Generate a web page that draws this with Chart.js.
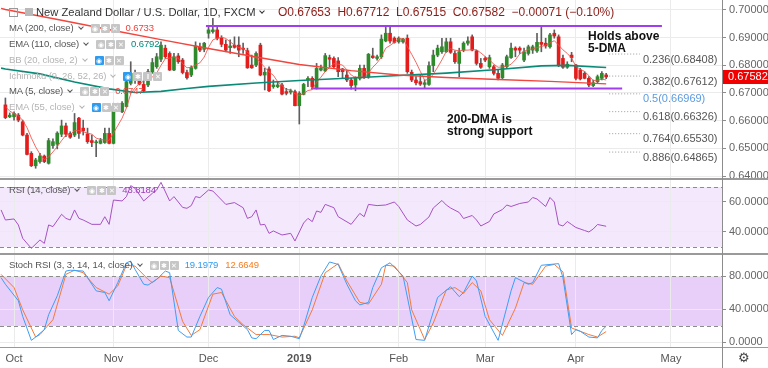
<!DOCTYPE html>
<html>
<head>
<meta charset="utf-8">
<script src="https://cdn.jsdelivr.net/npm/chart.js@4.4.1/dist/chart.umd.min.js"></script>
<style>
  body { margin: 0; background: #fff; font-family: "Liberation Sans", Arial, sans-serif; }
  #wrap { position: relative; width: 768px; height: 368px; overflow: hidden; }
  .pane { position: absolute; left: 0; width: 768px; }
  .sep { position: absolute; left: 0; width: 768px; background: #9a9a9a; }
  .vline { position: absolute; left: 722px; top: 0; width: 1px; height: 368px; background: #8c8c8c; }
  .leg { position: absolute; left: 9px; height: 14px; line-height: 14px; font-size: 9.5px; color: #555;
         display: flex; align-items: center; white-space: nowrap; letter-spacing: -0.1px; }
  .leg.dim { color: #b4b4b4; }
  .chev { display: inline-block; width: 3px; height: 3px; border-right: 1.3px solid currentColor;
          border-bottom: 1.3px solid currentColor; transform: rotate(45deg); margin: -3px 0 0 5px; }
  .icons { display: inline-flex; margin-left: 8px; }
  .i { display: inline-block; width: 9px; height: 9px; background: #c6c6c6; margin-right: 1px;
       color: #fff; font-size: 7px; line-height: 9px; text-align: center; border-radius: 1px; letter-spacing: 0; }
  .i.b { background: #2d9bf0; }
  .val { margin-left: 5px; }
  .gear { position: absolute; left: 738px; top: 350px; font-size: 13px; color: #444; }
</style>
</head>
<body>
<div id="wrap">
  <div class="pane" style="top:0;height:179px"><canvas id="mainChart"></canvas></div>
  <div class="pane" style="top:179px;height:75px"><canvas id="rsiChart"></canvas></div>
  <div class="pane" style="top:254px;height:114px"><canvas id="stochChart"></canvas></div>

  <div class="sep" style="top:178px;height:2px"></div>
  <div class="sep" style="top:253px;height:2px"></div>
  <div class="sep" style="top:347px;height:1px"></div>
  <div class="vline"></div>

  <!-- legend, main pane -->
  <div class="leg" style="top:5px;left:9px;font-size:11.2px;color:#333;letter-spacing:0">
    <span style="display:inline-block;width:7px;height:7px;border:1px solid #999;margin-right:7px"></span>
    <span style="display:inline-block;width:8px;height:8px;background:#b9b9b9;margin-right:3px"></span>
    <span>New Zealand Dollar / U.S. Dollar, 1D, FXCM</span><span class="chev"></span>
  </div>
  <div class="leg" style="top:5px;left:278px;font-size:12px;color:#8a1c16;letter-spacing:0">
    O0.67653&nbsp;&nbsp;H0.67712&nbsp;&nbsp;L0.67515&nbsp;&nbsp;C0.67582&nbsp;&nbsp;−0.00071 (−0.10%)
  </div>
  <div class="leg" style="top:21px"><span>MA (200, close)</span><span class="chev"></span>
    <span class="icons"><span class="i">◉</span><span class="i">✱</span><span class="i">✕</span></span>
    <span class="val" style="color:#f0403a">0.6733</span></div>
  <div class="leg" style="top:37px"><span>EMA (110, close)</span><span class="chev"></span>
    <span class="icons"><span class="i">◉</span><span class="i">✱</span><span class="i">✕</span></span>
    <span class="val" style="color:#00897b">0.6792</span></div>
  <div class="leg dim" style="top:53px"><span>BB (20, close, 2)</span><span class="chev"></span>
    <span class="icons"><span class="i b">◉</span><span class="i">✱</span><span class="i">✕</span></span></div>
  <div class="leg dim" style="top:69px"><span>Ichimoku (9, 26, 52, 26)</span><span class="chev"></span>
    <span class="icons"><span class="i b">◉</span><span class="i">✱</span><span class="i">‖</span><span class="i">✕</span></span></div>
  <div class="leg" style="top:84px"><span>MA (5, close)</span><span class="chev"></span>
    <span class="icons"><span class="i">◉</span><span class="i">✱</span><span class="i">✕</span></span>
    <span class="val" style="color:#f0403a">0.6747</span></div>
  <div class="leg dim" style="top:100px"><span>EMA (55, close)</span><span class="chev"></span>
    <span class="icons"><span class="i b">◉</span><span class="i">✱</span><span class="i">✕</span></span></div>

  <!-- legend, indicator panes -->
  <div class="leg" style="top:183px"><span>RSI (14, close)</span><span class="chev"></span>
    <span class="icons"><span class="i">◉</span><span class="i">✱</span><span class="i">✕</span></span>
    <span class="val" style="color:#9c3fb8">43.8184</span></div>
  <div class="leg" style="top:258px"><span>Stoch RSI (3, 3, 14, 14, close)</span><span class="chev"></span>
    <span class="icons"><span class="i">◉</span><span class="i">✱</span><span class="i">✕</span></span>
    <span class="val" style="color:#2d9bf0">19.1979</span>
    <span class="val" style="color:#f57c1f;margin-left:7px">12.6649</span></div>

  <div class="gear">⚙</div>
</div>

<script>
// ---- data: daily NZD/USD bars, index 0 = 27 Sep 2018, 139 = 11 Apr 2019 ----
const candleOpen = [
  .6657,.6614,.6614,.6620,.6596,.6548,.6482,.6437,.6452,.6472,
  .6446,.6510,.6515,.6551,.6581,.6554,.6548,.6609,.6573,.6552,
  .6528,.6520,.6518,.6521,.6554,.6518,.6641,.6632,.6651,.6735,
  .6747,.6749,.6731,.6729,.6774,.6795,.6822,.6862,.6843,.6783,
  .6834,.6819,.6774,.6765,.6789,.6867,.6858,.6916,.6922,.6928,
  .6898,.6876,.6864,.6873,.6873,.6862,.6853,.6801,.6801,.6873,
  .6765,.6787,.6723,.6723,.6729,.6705,.6703,.6705,.6654,.6695,
  .6747,.6753,.6719,.6783,.6780,.6828,.6825,.6816,.6787,.6765,
  .6747,.6729,.6753,.6789,.6759,.6834,.6825,.6831,.6888,.6916,
  .6898,.6885,.6885,.6898,.6775,.6747,.6741,.6731,.6731,.6799,
  .6837,.6849,.6849,.6885,.6843,.6807,.6855,.6880,.6903,.6852,
  .6807,.6825,.6795,.6795,.6771,.6755,.6795,.6828,.6862,.6862,
  .6819,.6843,.6855,.6852,.6883,.6880,.6867,.6916,.6903,.6825,
  .6793,.6837,.6801,.6783,.6771,.6753,.6727,.6741,.6753,.67653
];
const candleHigh = [
  .6682,.6628,.6632,.6626,.6602,.6554,.6488,.6464,.6482,.6476,
  .6536,.6534,.6560,.6602,.6591,.6560,.6626,.6612,.6602,.6573,
  .6548,.6530,.6536,.6573,.6573,.6663,.6663,.6669,.6774,.6813,
  .6783,.6759,.6747,.6786,.6825,.6843,.6885,.6873,.6849,.6843,
  .6843,.6825,.6783,.6798,.6885,.6880,.6883,.6940,.6970,.6940,
  .6907,.6892,.6892,.6903,.6903,.6880,.6862,.6837,.6849,.6880,
  .6789,.6795,.6747,.6741,.6735,.6717,.6714,.6711,.6705,.6735,
  .6759,.6759,.6807,.6801,.6843,.6837,.6831,.6828,.6789,.6780,
  .6753,.6759,.6801,.6801,.6843,.6862,.6837,.6910,.6940,.6940,
  .6903,.6903,.6898,.6910,.6783,.6759,.6765,.6747,.6813,.6855,
  .6873,.6898,.6898,.6898,.6852,.6862,.6885,.6903,.6910,.6855,
  .6825,.6831,.6837,.6801,.6783,.6807,.6837,.6880,.6867,.6867,
  .6862,.6873,.6873,.6916,.6940,.6898,.6916,.6928,.6910,.6837,
  .6813,.6847,.6804,.6789,.6777,.6759,.6747,.6765,.6777,.67712
];
const candleLow = [
  .6607,.6611,.6602,.6596,.6545,.6476,.6434,.6428,.6446,.6448,
  .6443,.6500,.6498,.6542,.6542,.6536,.6542,.6536,.6548,.6518,
  .6506,.6470,.6516,.6518,.6516,.6516,.6636,.6629,.6649,.6729,
  .6735,.6729,.6705,.6723,.6771,.6789,.6813,.6825,.6781,.6781,
  .6807,.6769,.6750,.6759,.6786,.6849,.6849,.6898,.6916,.6892,
  .6867,.6849,.6843,.6862,.6831,.6843,.6789,.6789,.6795,.6762,
  .6711,.6705,.6717,.6719,.6693,.6693,.6696,.6653,.6588,.6693,
  .6723,.6717,.6714,.6780,.6777,.6795,.6792,.6759,.6755,.6741,
  .6714,.6708,.6747,.6753,.6753,.6825,.6819,.6825,.6885,.6880,
  .6880,.6880,.6880,.6771,.6741,.6729,.6727,.6719,.6727,.6777,
  .6831,.6843,.6847,.6843,.6807,.6759,.6849,.6873,.6852,.6801,
  .6789,.6813,.6789,.6765,.6747,.6751,.6789,.6825,.6831,.6843,
  .6813,.6837,.6843,.6847,.6849,.6862,.6862,.6898,.6795,.6789,
  .6789,.6813,.6747,.6747,.6751,.6723,.6723,.6735,.6747,.67515
];
const candleClose = [
  .6611,.6620,.6626,.6602,.6548,.6478,.6437,.6458,.6472,.6452,
  .6528,.6524,.6555,.6581,.6551,.6540,.6593,.6554,.6564,.6524,
  .6521,.6522,.6528,.6554,.6518,.6653,.6657,.6663,.6741,.6771,
  .6765,.6732,.6708,.6777,.6810,.6831,.6873,.6831,.6783,.6831,
  .6813,.6774,.6755,.6792,.6870,.6855,.6880,.6928,.6928,.6898,
  .6876,.6855,.6870,.6865,.6855,.6858,.6791,.6791,.6843,.6765,
  .6775,.6708,.6729,.6729,.6696,.6699,.6708,.6654,.6699,.6731,
  .6753,.6723,.6789,.6789,.6835,.6822,.6795,.6777,.6777,.6747,
  .6727,.6753,.6789,.6755,.6840,.6828,.6831,.6895,.6916,.6888,
  .6883,.6898,.6895,.6777,.6747,.6737,.6732,.6737,.6799,.6837,
  .6862,.6867,.6885,.6847,.6813,.6849,.6880,.6888,.6855,.6807,
  .6793,.6819,.6828,.6771,.6753,.6801,.6831,.6862,.6855,.6855,
  .6849,.6867,.6867,.6883,.6876,.6870,.6910,.6906,.6801,.6793,
  .6804,.6828,.6753,.6751,.6753,.6729,.6737,.6759,.6771,.67582
];
const ma5 = [
  .6650,.6635,.6625,.6618,.6601,.6575,.6538,.6505,.6479,.6459,
  .6469,.6487,.6506,.6528,.6548,.6550,.6564,.6564,.6560,.6555,
  .6551,.6537,.6532,.6530,.6529,.6555,.6582,.6609,.6646,.6697,
  .6719,.6734,.6743,.6751,.6758,.6772,.6800,.6824,.6826,.6830,
  .6826,.6806,.6791,.6793,.6801,.6809,.6830,.6865,.6892,.6898,
  .6902,.6897,.6885,.6873,.6864,.6861,.6848,.6832,.6828,.6810,
  .6793,.6776,.6764,.6741,.6727,.6712,.6712,.6697,.6691,.6698,
  .6709,.6712,.6739,.6757,.6778,.6792,.6806,.6804,.6801,.6784,
  .6765,.6756,.6759,.6754,.6773,.6793,.6809,.6830,.6862,.6872,
  .6883,.6896,.6896,.6868,.6840,.6811,.6778,.6746,.6750,.6768,
  .6793,.6820,.6850,.6860,.6855,.6852,.6855,.6855,.6857,.6856,
  .6845,.6832,.6820,.6804,.6793,.6794,.6797,.6804,.6820,.6841,
  .6850,.6858,.6859,.6864,.6868,.6873,.6881,.6889,.6873,.6856,
  .6843,.6826,.6796,.6786,.6778,.6763,.6745,.6746,.6750,.6747
];
// smooth averages read at a few bars
const ma200X = [-1, 0, 13, 25, 36, 47, 58, 68, 80, 91, 102, 114, 126, 139];
const ma200 = [.7006, .7002, .6963, .6926, .6893, .6861, .6830, .6803, .6781, .6765, .6756, .6749, .6742, .6733];
const ema110X = [-1, 0, 8, 16, 24, 30, 36, 42, 47, 58, 68, 80, 91, 102, 114, 124, 130, 139];
const ema110 = [.6790, .6787, .6769, .6740, .6715, .6702, .6706, .6716, .6724, .6736, .6745, .6754, .6763, .6772, .6785, .6798, .6800, .6792];

const rsiX = [-1,0,2,3,4,6,8,9,10,11,13,14,15,16,17,18,20,22,23,24,25,27,28,29,30,32,34,35,36,38,
  39,41,42,43,44,45,47,48,51,53,55,56,57,58,59,60,61,62,64,66,67,68,69,70,71,72,73,74,76,77,
  80,82,83,84,86,88,90,91,93,94,95,96,98,99,101,102,103,105,106,108,109,110,112,113,115,116,117,119,121,122,
  123,125,126,127,128,129,130,131,132,134,135,136,137,139];
const rsi = [54.7,48,48.7,44.7,35.8,29.1,34.7,32.4,44.7,43.6,51.8,49.1,48,54.7,49.1,48,45.1,45.1,50.2,45.1,
  61.3,60.7,63.6,70.9,69.1,60.7,65.8,68,73.1,60.7,63.6,56.4,55.8,57.6,63.6,62.9,68,67.3,58.4,59.6,
  56.2,49.1,50.2,54.7,44.7,45.1,39.1,40.7,38,39.1,34,40,46,49.1,46.9,54,53.1,58.4,56.2,50.2,
  45.1,52.4,50.2,58.4,57.6,58,60,57,48,46,44,45,50,56,61,58,56,53,49,51,
  48,44,47,52,55,58,57,59,60,63,62,57,63,60,45,44,47,45,43,41,40,42,45,43.8184];

const stochKX = [-1,0,3,4,6,7,9,10,12,14,15,18,19,21,23,24,26,28,29,30,32,33,35,37,38,40,42,43,45,47,
  49,50,52,54,56,57,58,60,61,62,64,66,68,69,71,73,75,77,79,81,82,84,85,87,89,92,95,97,100,103,
  105,106,108,109,111,114,117,118,121,122,124,128,129,131,132,133,135,137,138,139];
const stochK = [78,70,50,31,2,6,15,33,56,86,87,86,78,62,60,50,72,96,98,88,70,69,76,86,84,14,6,6,31,54,
  66,64,33,24,15,5,4,14,14,3,8,7,4,19,54,80,97,94,70,50,45,48,66,90,96,80,3,2,54,67,
  55,60,80,74,31,2,62,78,70,72,93,95,78,9,15,13,6,5,14,19.1979];
const stochDX = [-1,2,4,7,8,11,14,16,18,21,24,26,28,30,33,34,36,38,41,43,45,48,50,53,55,58,61,64,67,68,
  71,74,77,79,82,84,87,88,90,93,94,97,99,102,104,106,108,110,112,115,118,120,122,125,127,129,131,133,135,137,139];
const stochD = [82,66,39,6,9,27,82,87,84,66,58,68,93,92,76,72,80,78,25,8,15,58,60,31,21,9,9,6,7,5,
  39,84,95,74,48,46,70,93,92,72,39,3,23,63,66,59,72,62,27,8,41,72,70,92,94,85,17,13,9,6,12.6649];

// axis labels
const monthTicks = [2, 25, 47, 68, 91, 111, 132, 154];
const monthLabels = ['Oct', 'Nov', 'Dec', '2019', 'Feb', 'Mar', 'Apr', 'May'];
const priceTicks = [0.64, 0.65, 0.66, 0.67, 0.68, 0.69, 0.70];
const rsiTicks = [40, 60];
const stochTicks = [0, 40, 80];
const rsiBand = [30, 70];
const stochBand = [20, 80];

// drawn objects on the price pane
const channelTop = { from: 46.4, to: 151.9, price: 0.6942 };
const channelBottom = { from: 70.7, to: 142.7, price: 0.6716 };
const fibRatios = [0.236, 0.382, 0.5, 0.618, 0.764, 0.886];
const fibPrices = [0.68408, 0.67612, 0.66969, 0.66326, 0.65530, 0.64865];
const lastPrice = 0.67582;

Chart.defaults.font.family = '"Liberation Sans", Arial, sans-serif';
Chart.defaults.animation = false;

const xMin = -1.25, xMax = 165.8;
const up = '#2f8a2c', down = '#e51c1c';

function xAxis(showLabels) {
  return {
    type: 'linear', min: xMin, max: xMax, offset: false,
    afterBuildTicks: s => { s.ticks = monthTicks.map(v => ({ value: v })); },
    afterFit: s => { s.paddingLeft = 0; s.paddingRight = 0; s.height = showLabels ? 21 : 0; },
    grid: { color: '#ebebeb', drawTicks: false, offset: false },
    border: { display: false },
    ticks: {
      display: showLabels, autoSkip: false, maxRotation: 0, padding: 5, color: '#555',
      font: c => ({ size: 11, weight: c.tick && c.tick.value === 68 ? 'bold' : 'normal' }),
      callback: (v, i) => monthLabels[i]
    }
  };
}

function yAxis(min, max, ticks, digits) {
  return {
    position: 'right', min: min, max: max,
    afterBuildTicks: s => { s.ticks = ticks.map(v => ({ value: v })); },
    afterFit: s => { s.width = 46; s.paddingTop = 0; s.paddingBottom = 0; },
    grid: { color: '#ebebeb', tickLength: 4, tickColor: '#8c8c8c' },
    border: { display: false },
    ticks: { padding: 3, color: '#666', font: { size: 11 }, callback: v => v.toFixed(digits) }
  };
}

function line(xs, ys, color, width, extra) {
  return Object.assign({
    type: 'line', data: xs.map((x, i) => ({ x: x, y: ys[i] })),
    borderColor: color, borderWidth: width, pointRadius: 0, tension: 0, order: 1
  }, extra || {});
}

function bandPlugin(band, fill) {
  return {
    id: 'band',
    beforeDraw(chart) {
      const { ctx, chartArea: a, scales: { y } } = chart;
      const top = Math.round(y.getPixelForValue(band[1]));
      const bot = Math.round(y.getPixelForValue(band[0]));
      ctx.save();
      ctx.fillStyle = fill;
      ctx.fillRect(a.left, top, a.right - a.left, bot - top);
      ctx.restore();
    },
    beforeDatasetsDraw(chart) {
      const { ctx, chartArea: a, scales: { y } } = chart;
      ctx.save();
      ctx.setLineDash([4, 3]);
      ctx.strokeStyle = '#8c8c8c';
      ctx.lineWidth = 1;
      band.forEach(v => {
        const p = Math.round(y.getPixelForValue(v)) + 0.5;
        ctx.beginPath(); ctx.moveTo(a.left, p); ctx.lineTo(a.right, p); ctx.stroke();
      });
      ctx.restore();
    }
  };
}

const common = {
  responsive: true, maintainAspectRatio: false, devicePixelRatio: 1,
  layout: { padding: 0, autoPadding: false },
  plugins: { legend: { display: false }, tooltip: { enabled: false } }
};

// price pane overlay: fib labels, notes, last price tag
const priceOverlay = {
  id: 'priceOverlay',
  afterDraw(chart) {
    const { ctx, chartArea: a, scales: { x, y } } = chart;
    ctx.save();
    ctx.font = '11px "Liberation Sans", Arial';
    ctx.textBaseline = 'top';
    fibRatios.forEach((r, i) => {
      ctx.fillStyle = r === 0.5 ? '#5b9be0' : '#555';
      ctx.fillText(r + '(' + fibPrices[i].toFixed(5) + ')', x.getPixelForValue(147.5), y.getPixelForValue(fibPrices[i]));
    });

    ctx.font = 'bold 12px "Liberation Sans", Arial';
    ctx.fillStyle = '#111';
    ctx.textBaseline = 'middle';
    ctx.fillText('Holds above', x.getPixelForValue(134.8), y.getPixelForValue(0.6902));
    ctx.fillText('5-DMA', x.getPixelForValue(134.8), y.getPixelForValue(0.6902) + 12);
    ctx.fillText('200-DMA is', x.getPixelForValue(102.2), y.getPixelForValue(0.6602));
    ctx.fillText('strong support', x.getPixelForValue(102.2), y.getPixelForValue(0.6602) + 12);

    const py = Math.round(y.getPixelForValue(lastPrice));
    ctx.fillStyle = '#f20000';
    ctx.fillRect(a.right + 1, py - 7, chart.width - a.right, 14);
    ctx.fillStyle = '#fff';
    ctx.font = '11px "Liberation Sans", Arial';
    ctx.fillText(lastPrice.toFixed(5), a.right + 6, py);
    ctx.restore();
  }
};

const bars = candleClose.map((c, i) => i);
const candleColors = candleClose.map((c, i) => c >= candleOpen[i] ? up : down);

new Chart(document.getElementById('mainChart'), {
  type: 'bar',
  data: {
    datasets: [
      { type: 'bar', data: bars.map(i => ({ x: i, y: [candleLow[i], candleHigh[i]] })),
        backgroundColor: '#5f5f5f', barThickness: 1, grouped: false, order: 10 },
      { type: 'bar', data: bars.map(i => ({ x: i, y: [candleOpen[i], candleClose[i]] })),
        backgroundColor: candleColors, barThickness: 3, minBarLength: 1, grouped: false, order: 9 },
      line(ma200X, ma200, '#f2453d', 1.4),
      line(ema110X, ema110, '#0b8a78', 1.6),
      line(bars, ma5, 'rgba(240,80,70,0.85)', 1),
      line([channelTop.from, channelTop.to], [channelTop.price, channelTop.price], '#a23cf0', 2),
      line([channelBottom.from, channelBottom.to], [channelBottom.price, channelBottom.price], '#a23cf0', 2),
      ...fibPrices.map(p => line([139.7, 146.8], [p, p], '#9a9a9a', 1, { borderDash: [1, 2] }))
    ]
  },
  options: Object.assign({}, common, {
    scales: { x: xAxis(false), y: yAxis(0.638916, 0.703614, priceTicks, 5) }
  }),
  plugins: [priceOverlay]
});

new Chart(document.getElementById('rsiChart'), {
  type: 'line',
  data: { datasets: [line(rsiX, rsi, '#a652c4', 1)] },
  options: Object.assign({}, common, {
    scales: { x: xAxis(false), y: yAxis(25.33, 75.33, rsiTicks, 4) }
  }),
  plugins: [bandPlugin(rsiBand, '#f4e8fc')]
});

new Chart(document.getElementById('stochChart'), {
  type: 'line',
  data: { datasets: [
    line(stochKX, stochK, '#3d9ef5', 1),
    line(stochDX, stochD, '#f57a3a', 1)
  ] },
  options: Object.assign({}, common, {
    scales: { x: xAxis(true), y: yAxis(-6.06, 106.67, stochTicks, 4) }
  }),
  plugins: [bandPlugin(stochBand, '#e7cff9')]
});
</script>
</body>
</html>
